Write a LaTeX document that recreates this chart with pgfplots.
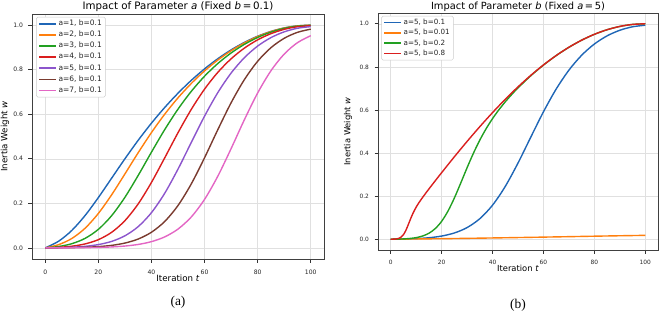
\documentclass[border=0pt]{standalone}
\usepackage{fontspec}
\setmainfont{DejaVu Sans}
\newfontfamily\seriffont{Liberation Serif}
\usepackage{pgfplots}
\pgfplotsset{compat=1.18}
\definecolor{c0}{HTML}{1F66B6}
\definecolor{c1}{HTML}{FF7F0E}
\definecolor{c2}{HTML}{22A022}
\definecolor{c3}{HTML}{DA1E1E}
\definecolor{c4}{HTML}{8C55CC}
\definecolor{c5}{HTML}{7A3B2F}
\definecolor{c6}{HTML}{E366C4}
\pgfplotsset{
  mystyle/.style={
    scale only axis, clip=false,
    xmin=-5, xmax=105, ymin=-0.05, ymax=1.05,
    xtick={0,20,40,60,80,100}, ytick={0,0.2,0.4,0.6,0.8,1.0},
    yticklabel style={/pgf/number format/fixed, /pgf/number format/fixed zerofill, /pgf/number format/precision=1},
    /pgf/number format/assume math mode=true,
    tick align=outside, major tick length=3.5bp,
    tick style={black!80, line width=0.6bp},
    xtick pos=left, ytick pos=left,
    grid=major, major grid style={black!12, line width=0.5bp},
    axis line style={black!75, line width=0.7bp},
    legend cell align=left,
    legend image code/.code={\draw[##1, line width=1.6bp] (0bp,0bp) -- (17bp,0bp);},
    every axis plot/.append style={line width=1.4bp, smooth, no marks},
  }
}
\begin{document}
\begin{tikzpicture}
\path[use as bounding box] (0,0) rectangle (661bp,315bp);
% ---------------- left panel ----------------
\begin{axis}[mystyle,
  at={(32bp,56bp)}, anchor=south west,
  width=292bp, height=245bp,
  tick label style={font=\fontsize{6.1}{7}\selectfont, text=black!85},
  xticklabel style={yshift=-4bp}, yticklabel style={xshift=-2bp},
  ylabel={Inertia Weight \textit{w}},
  ylabel style={at={(axis description cs:-0.0925,0.5)}, anchor=center, font=\fontsize{8.7}{10}\selectfont},
  legend style={at={(axis description cs:0.014,0.988)}, anchor=north west, draw=black!20, rounded corners=1.5bp, line width=0.5bp,
    font=\fontsize{7.5}{8.5}\selectfont, inner xsep=2bp, inner ysep=1.5bp, row sep=0.8bp,
    nodes={inner sep=1.6bp, text height=5.4bp, text depth=1.7bp, text=black!85}},
]
\addplot[c0] coordinates {(0,0) (5,0.0296) (10,0.0782) (15,0.1453) (20,0.2259) (25,0.3129) (30,0.3999) (35,0.4829) (40,0.5599) (45,0.6304) (50,0.6944) (55,0.7521) (60,0.8036) (65,0.8492) (70,0.8888) (75,0.9225) (80,0.9502) (85,0.9718) (90,0.9874) (95,0.9967) (100,0.9999)};
\addlegendentry{a=1, b=0.1}
\addplot[c1] coordinates {(0,0) (5,0.0143) (10,0.0421) (15,0.0881) (20,0.1545) (25,0.2382) (30,0.3319) (35,0.4272) (40,0.5177) (45,0.6002) (50,0.6736) (55,0.7381) (60,0.7945) (65,0.8433) (70,0.8851) (75,0.9201) (80,0.9487) (85,0.9709) (90,0.9868) (95,0.9964) (100,0.9997)};
\addlegendentry{a=2, b=0.1}
\addplot[c2] coordinates {(0,0) (5,0.0060) (10,0.0187) (15,0.0426) (20,0.0831) (25,0.1445) (30,0.2270) (35,0.3252) (40,0.4297) (45,0.5310) (50,0.6228) (55,0.7027) (60,0.7707) (65,0.8277) (70,0.8750) (75,0.9137) (80,0.9447) (85,0.9684) (90,0.9853) (95,0.9954) (100,0.9991)};
\addlegendentry{a=3, b=0.1}
\addplot[c3] coordinates {(0,0) (5,0.0023) (10,0.0074) (15,0.0177) (20,0.0368) (25,0.0698) (30,0.1221) (35,0.1973) (40,0.2939) (45,0.4043) (50,0.5169) (55,0.6217) (60,0.7126) (65,0.7880) (70,0.8488) (75,0.8968) (80,0.9340) (85,0.9617) (90,0.9811) (95,0.9929) (100,0.9975)};
\addlegendentry{a=4, b=0.1}
\addplot[c4] coordinates {(0,0) (5,0.0009) (10,0.0028) (15,0.0068) (20,0.0147) (25,0.0290) (30,0.0541) (35,0.0953) (40,0.1581) (45,0.2452) (50,0.3536) (55,0.4733) (60,0.5914) (65,0.6971) (70,0.7848) (75,0.8538) (80,0.9060) (85,0.9439) (90,0.9699) (95,0.9860) (100,0.9933)};
\addlegendentry{a=5, b=0.1}
\addplot[c5] coordinates {(0,0) (5,0.0003) (10,0.0011) (15,0.0026) (20,0.0056) (25,0.0112) (30,0.0215) (35,0.0396) (40,0.0701) (45,0.1185) (50,0.1902) (55,0.2871) (60,0.4045) (65,0.5307) (70,0.6514) (75,0.7553) (80,0.8377) (85,0.8986) (90,0.9409) (95,0.9677) (100,0.9820)};
\addlegendentry{a=6, b=0.1}
\addplot[c6] coordinates {(0,0) (5,0.0001) (10,0.0004) (15,0.0010) (20,0.0021) (25,0.0042) (30,0.0082) (35,0.0153) (40,0.0279) (45,0.0493) (50,0.0843) (55,0.1387) (60,0.2176) (65,0.3219) (70,0.4455) (75,0.5751) (80,0.6953) (85,0.7950) (90,0.8700) (95,0.9213) (100,0.9526)};
\addlegendentry{a=7, b=0.1}
\node[font=\fontsize{10.3}{12}\selectfont, anchor=center] at (axis description cs:0.5,1.0286) {Impact of Parameter \textit{a} (Fixed \textit{b}\,=\,0.1)};
\node[font=\fontsize{8.7}{10}\selectfont, anchor=center] at (axis description cs:0.5,-0.078) {Iteration \textit{t}};
\node[font=\seriffont\fontsize{13.5}{15}\selectfont] at (axis description cs:0.5,-0.1755) {(a)};
\end{axis}
% ---------------- right panel ----------------
\begin{axis}[mystyle,
  at={(378bp,65bp)}, anchor=south west,
  width=280bp, height=237bp,
  tick label style={font=\fontsize{5.9}{7}\selectfont, text=black!85},
  xticklabel style={yshift=-3.5bp}, yticklabel style={xshift=-2bp},
  ylabel={Inertia Weight \textit{w}},
  ylabel style={at={(axis description cs:-0.107,0.5)}, anchor=center, font=\fontsize{8.4}{10}\selectfont},
  legend style={at={(axis description cs:0.012,0.988)}, anchor=north west, draw=black!20, rounded corners=1.5bp, line width=0.5bp,
    font=\fontsize{7.2}{8.5}\selectfont, inner xsep=2bp, inner ysep=1.5bp, row sep=0.6bp,
    nodes={inner sep=1.5bp, text height=5.2bp, text depth=1.6bp, text=black!85}},
]
\addplot[c0] coordinates {(0,0) (5,0.0009) (10,0.0028) (15,0.0068) (20,0.0147) (25,0.0290) (30,0.0541) (35,0.0953) (40,0.1581) (45,0.2452) (50,0.3536) (55,0.4733) (60,0.5914) (65,0.6971) (70,0.7848) (75,0.8538) (80,0.9060) (85,0.9439) (90,0.9699) (95,0.9860) (100,0.9933)};
\addlegendentry{a=5, b=0.1}
\addplot[c1] coordinates {(0,0) (10,0.0012) (20,0.0025) (30,0.0041) (40,0.0059) (50,0.0078) (60,0.0098) (70,0.0119) (80,0.0141) (90,0.0161) (100,0.0180)};
\addlegendentry{a=5, b=0.01}
\addplot[c2] coordinates {(0,0) (2.5,0.0004) (5,0.0014) (7.5,0.0035) (10,0.0074) (12.5,0.0148) (15,0.0278) (17.5,0.0495) (20,0.0831) (22.5,0.1307) (25,0.1913) (27.5,0.2606) (30,0.3319) (32.5,0.3995) (35,0.4602) (37.5,0.5134) (40,0.5599) (42.5,0.6009) (45,0.6378) (47.5,0.6713) (50,0.7024) (55,0.7585) (60,0.8083) (65,0.8524) (70,0.8909) (75,0.9238) (80,0.9510) (85,0.9724) (90,0.9877) (95,0.9969) (100,1.0000)};
\addlegendentry{a=5, b=0.2}
\addplot[c3] coordinates {(0,0) (1,0.0002) (2,0.0010) (3,0.0033) (4,0.0089) (5,0.0211) (6,0.0424) (7,0.0709) (8,0.1005) (9,0.1268) (10,0.1490) (11,0.1682) (12,0.1855) (14,0.2177) (16,0.2486) (18,0.2790) (20,0.3090) (25,0.3827) (30,0.4540) (35,0.5225) (40,0.5878) (45,0.6495) (50,0.7071) (55,0.7604) (60,0.8090) (65,0.8526) (70,0.8910) (75,0.9239) (80,0.9511) (85,0.9724) (90,0.9877) (95,0.9969) (100,1.0000)};
\addlegendentry{a=5, b=0.8}
\node[font=\fontsize{9.9}{12}\selectfont, anchor=center] at (axis description cs:0.5,1.027) {Impact of Parameter \textit{b} (Fixed \textit{a}\,=\,5)};
\node[font=\fontsize{8.4}{10}\selectfont, anchor=center] at (axis description cs:0.5,-0.078) {Iteration \textit{t}};
\node[font=\seriffont\fontsize{13.5}{15}\selectfont] at (axis description cs:0.5,-0.232) {(b)};
\end{axis}
\end{tikzpicture}
\end{document}
